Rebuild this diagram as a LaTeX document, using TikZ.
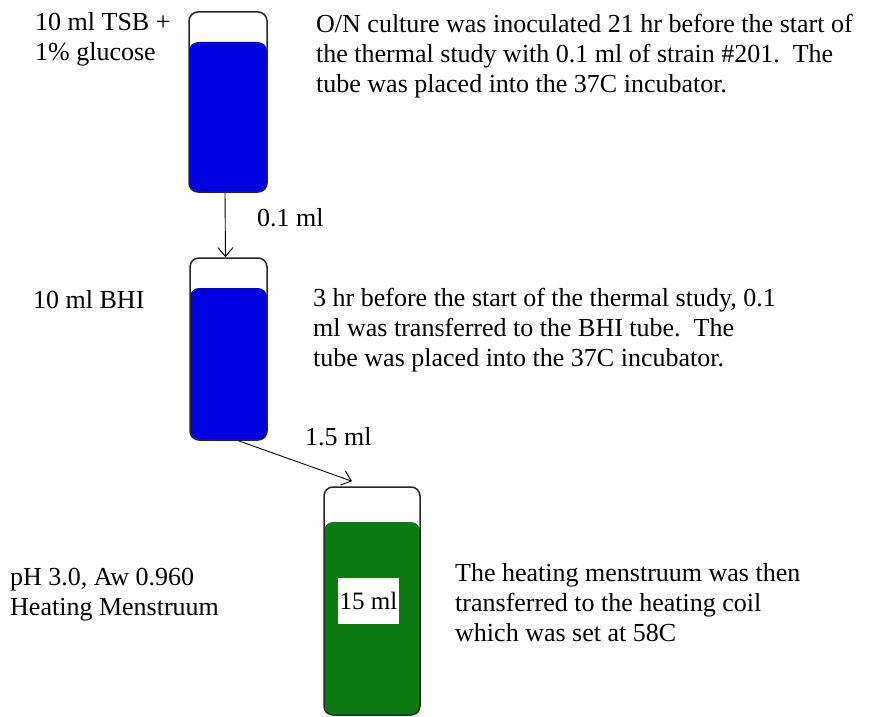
\documentclass[tikz,border=0pt]{standalone}
\usepackage{fontspec}
\setmainfont{Liberation Serif}
\usetikzlibrary{arrows.meta,calc}
\definecolor{tubeblue}{RGB}{0,0,225}
\definecolor{tubegreen}{RGB}{14,122,20}
\begin{document}
\begin{tikzpicture}[x=1pt,y=-1pt,
  tube/.style={draw=black!85,line width=1.5pt,rounded corners=9pt,inner sep=0pt,fill=white},
  liquid/.style 2 args={path picture={\fill[#1] (path picture bounding box.south west) rectangle ([yshift=-#2]path picture bounding box.north east);}},
  lbl/.style={font=\fontsize{26}{30}\selectfont,inner sep=0pt,align=left},
  flow/.style={-{Straight Barb[length=9pt,width=15pt]},line width=0.9pt}
]
\useasboundingbox[fill=white] (0,0) rectangle (875,717);
% tubes
\node[tube,liquid={tubeblue}{30pt},minimum width=78pt,minimum height=180pt] (t1) at (228,102) {};
\node[tube,liquid={tubeblue}{30pt},minimum width=77pt,minimum height=182pt] (t2) at (228.5,349) {};
\node[tube,liquid={tubegreen}{35pt},minimum width=96pt,minimum height=228pt] (t3) at (372,601) {};
\node[fill=white,minimum width=61pt,minimum height=46pt,inner sep=0pt,font=\fontsize{25}{30}\selectfont] (vol) at ($(t3.center)+(-3.5,0)$) {15 ml};
% connectors
\draw[flow] ([xshift=-3pt]t1.south) -- ([xshift=-3pt]t2.north);
\draw[flow] ([xshift=10pt]t2.south) -- ([xshift=-20pt,yshift=5pt]t3.north);
% labels
\node[lbl,anchor=north west] (tsb) at (35,12) {10 ml TSB +\\1\% glucose};
\node[lbl,anchor=north west] (on) at (316,14) {O/N culture was inoculated 21 hr before the start of\\the thermal study with 0.1 ml of strain \#201.\ \ The\\tube was placed into the 37C incubator.};
\node[lbl,anchor=west] (v1) at (257,218) {0.1 ml};
\node[lbl,anchor=west] (bhi) at (33,300) {10 ml BHI};
\node[lbl,anchor=north west] (hr3) at (313,288) {3 hr before the start of the thermal study, 0.1\\ml was transferred to the BHI tube.\ \ The\\tube was placed into the 37C incubator.};
\node[lbl,anchor=west] (v2) at (305,437) {1.5 ml};
\node[lbl,anchor=north west] (ph) at (10,568) {pH 3.0, Aw 0.960\\Heating Menstruum};
\node[lbl,anchor=north west] (heat) at (455,563) {The heating menstruum was then\\transferred to the heating coil\\which was set at 58C};
\end{tikzpicture}
\end{document}
